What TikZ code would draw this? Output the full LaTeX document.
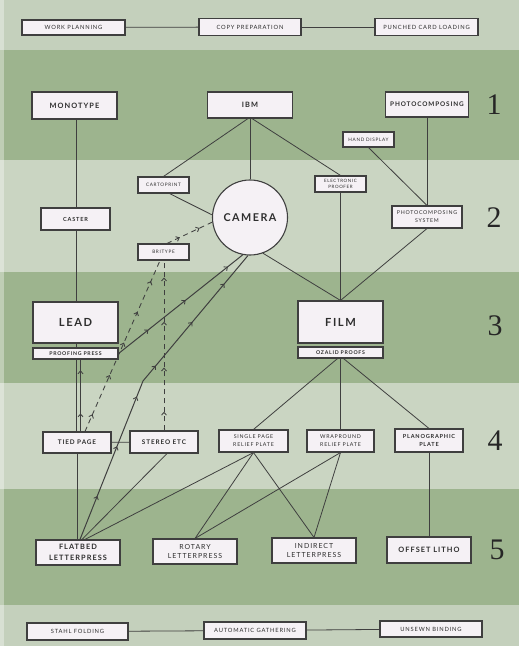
\documentclass[tikz,border=0pt]{standalone}
\usepackage{fontspec}
\usetikzlibrary{decorations.markings,arrows.meta}
\newfontfamily\lblfont[LetterSpace=14]{Lato}
\newfontfamily\numfont{Liberation Serif}
\definecolor{dkband}{HTML}{9DB48E}
\definecolor{ltband}{HTML}{CAD5C2}
\definecolor{edband}{HTML}{C4D0BC}
\definecolor{boxfill}{HTML}{F5F1F5}
\definecolor{boxline}{HTML}{3F3F3F}
\definecolor{txt}{HTML}{2E2E2E}
\definecolor{lin}{HTML}{3F3F3F}
\begin{document}
\begin{tikzpicture}[x=1bp,y=-1bp,
  box/.style={draw=boxline, fill=boxfill, line width=1.1bp, inner sep=0pt, align=center, text=txt},
  fa/.style={font=\lblfont\fontsize{4.7}{6}\selectfont},
  fb/.style={font=\lblfont\fontsize{5.3}{8}\selectfont},
  fbb/.style={font=\lblfont\bfseries\fontsize{5.6}{8}\selectfont},
  fc/.style={font=\lblfont\fontsize{5.8}{8}\selectfont},
  fd/.style={font=\lblfont\bfseries\fontsize{6.4}{8}\selectfont},
  fe/.style={font=\lblfont\fontsize{7}{10}\selectfont},
  feb/.style={font=\lblfont\bfseries\fontsize{7.4}{10.5}\selectfont},
  fbig/.style={font=\lblfont\bfseries\fontsize{10.8}{12}\selectfont},
  numst/.style={font=\numfont\fontsize{30}{31}\selectfont, text=black!85, inner sep=0pt},
  conn/.style={draw=lin, line width=0.8bp},
  aconn/.style={draw=lin, line width=1bp},
  dconn/.style={draw=lin, line width=0.85bp, dash pattern=on 5bp off 4bp},
  bb/.tip={Straight Barb[length=2.8bp,width=5bp,line width=0.85bp]},
  mids/.style={postaction={decorate, decoration={markings, mark=at position #1 with {\arrow{bb}}}}}
]
\useasboundingbox (0,0) rectangle (519,646);
% bands
\fill[edband] (0,0) rectangle (519,50);
\fill[dkband] (0,50) rectangle (519,160);
\fill[ltband] (0,160) rectangle (519,272);
\fill[dkband] (0,272) rectangle (519,383);
\fill[ltband] (0,383) rectangle (519,489);
\fill[dkband] (0,489) rectangle (519,605);
\fill[edband] (0,605) rectangle (519,646);
\fill[white, opacity=0.35] (0,0) rectangle (4,646);

% top row
\node[box, fc, minimum width=103bp, minimum height=15bp] (wp) at (73.5,27.5) {WORK PLANNING};
\node[box, fc, minimum width=102bp, minimum height=17bp] (cp) at (250,27) {COPY PREPARATION};
\node[box, fc, minimum width=103bp, minimum height=17bp] (pcl) at (426.5,27) {PUNCHED CARD LOADING};

% band 1
\node[box, feb, minimum width=85bp, minimum height=27bp] (mono) at (74.5,105.5) {MONOTYPE};
\node[box, feb, minimum width=85bp, minimum height=26bp] (ibm) at (250,105) {IBM};
\node[box, fd, minimum width=83bp, minimum height=25bp] (photo) at (427,104.5) {PHOTOCOMPOSING};
\node[box, fa, minimum width=51bp, minimum height=15bp] (hand) at (368.5,139.5) {HAND DISPLAY};

% band 2
\node[box, fa, minimum width=51bp, minimum height=16bp] (carto) at (163.5,185) {CARTOPRINT};
\node[box, fbb, minimum width=69bp, minimum height=22bp] (caster) at (75.5,219) {CASTER};
\node[box, fa, minimum width=51bp, minimum height=16bp] (brit) at (163.5,252) {BRITYPE};
\node[box, circle, fbig, minimum size=75bp] (cam) at (250,217.5) {CAMERA};
\node[box, font=\lblfont\fontsize{4.5}{6}\selectfont, minimum width=51bp, minimum height=16bp] (eproof) at (340.5,184) {ELECTRONIC\\PROOFER};
\node[box, fb, minimum width=70bp, minimum height=22bp] (pcs) at (427,217) {PHOTOCOMPOSING\\SYSTEM};

% band 3
\node[box, font=\lblfont\bfseries\fontsize{11.2}{12}\selectfont, minimum width=85bp, minimum height=41bp] (lead) at (75.5,322.5) {LEAD};
\node[box, font=\lblfont\bfseries\fontsize{5.2}{6}\selectfont, minimum width=85bp, minimum height=11bp] (press) at (75.5,353.5) {PROOFING PRESS};
\node[box, font=\lblfont\bfseries\fontsize{11.2}{12}\selectfont, minimum width=85bp, minimum height=42bp] (film) at (340.5,322) {FILM};
\node[box, font=\lblfont\bfseries\fontsize{5.2}{6}\selectfont, minimum width=85bp, minimum height=11bp] (ozalid) at (340.5,352.5) {OZALID PROOFS};

% band 4
\node[box, fd, minimum width=68bp, minimum height=21bp] (tied) at (77,442.5) {TIED PAGE};
\node[box, fd, minimum width=68bp, minimum height=22bp] (stereo) at (164,442) {STEREO ETC};
\node[box, fb, minimum width=69bp, minimum height=22bp] (single) at (253.5,441) {SINGLE PAGE\\RELIEF PLATE};
\node[box, fb, minimum width=67bp, minimum height=22bp] (wrap) at (340.5,441) {WRAPROUND\\RELIEF PLATE};
\node[box, fbb, minimum width=68bp, minimum height=23bp] (plano) at (429,440.5) {PLANOGRAPHIC\\PLATE};

% band 5
\node[box, feb, minimum width=84bp, minimum height=25bp] (flat) at (78,552.5) {FLATBED\\LETTERPRESS};
\node[box, fe, minimum width=84bp, minimum height=25bp] (rotary) at (195,551.5) {ROTARY\\LETTERPRESS};
\node[box, fe, minimum width=84bp, minimum height=25bp] (indir) at (314,550.5) {INDIRECT\\LETTERPRESS};
\node[box, feb, minimum width=84bp, minimum height=26bp] (offs) at (429,550) {OFFSET LITHO};

% bottom row
\node[box, fc, minimum width=101bp, minimum height=17bp] (stahl) at (77.5,631.5) {STAHL FOLDING};
\node[box, fc, minimum width=102bp, minimum height=17bp] (autog) at (255,630.5) {AUTOMATIC GATHERING};
\node[box, fc, minimum width=102bp, minimum height=16bp] (unsewn) at (431,629) {UNSEWN BINDING};

% numerals
\node[numst] (n1) at (494,105) {1};
\node[numst] (n2) at (494,218) {2};
\node[numst] (n3) at (495,326) {3};
\node[numst] (n4) at (495,441) {4};
\node[numst] (n5) at (497,550) {5};

% helper coordinates
\coordinate (cx) at (76,0);
\coordinate (cx2) at (77.5,0);
\coordinate (ax) at (80.5,0);
\coordinate (kink) at (143,381);

% connectors
\draw[conn] (wp) -- (cp);
\draw[conn] (cp) -- (pcl);
\draw[conn] (stahl) -- (autog);
\draw[conn] (autog) -- (unsewn);

\draw[conn] (mono.south -| cx) -- (caster.north -| cx);
\draw[conn] (caster.south -| cx) -- (lead.north -| cx);
\draw[conn] (lead.south -| cx) -- (press.north -| cx);
\draw[conn] (press.south -| cx) -- (tied.north -| cx);
\draw[conn] (tied.south -| cx2) -- (flat.north -| cx2);
\draw[conn, mids=0.25, mids=0.85] (tied.north -| ax) -- (press.south -| ax);
\draw[conn] (tied) -- (stereo);
\draw[conn] ([xshift=3bp]stereo.south) -- ([xshift=4bp]flat.north);

\draw[aconn, mids=0.14, mids=0.30, mids=0.46, mids=0.57, mids=0.74, mids=0.89] ([xshift=2bp]flat.north) -- (kink) -- (cam.-93);
\draw[aconn, mids=0.24, mids=0.54, mids=0.88] (press.east) -- (cam.-101);

\draw[dconn, mids=0.28, mids=0.72] ([xshift=3.5bp]brit.north) -- (cam.187);
\draw[dconn, mids=0.10, mids=0.33, mids=0.52, mids=0.70, mids=0.88] ([xshift=8bp]tied.north) -- ([xshift=-3.5bp]brit.south);
\draw[dconn, mids=0.11, mids=0.37, mids=0.64, mids=0.90] (stereo.north) -- (stereo.north |- brit.south);

\draw[conn] (ibm) -- (cam);
\draw[conn] ([xshift=-2bp]ibm.south) -- (carto.north);
\draw[conn] ([xshift=2bp]ibm.south) -- (eproof.north);
\draw[conn] ([xshift=6bp]carto.south) -- (cam.176);
\draw[conn] (cam.-70) -- (film.north);
\draw[conn] (eproof) -- (film);
\draw[conn] (pcs.south) -- (film.north);
\draw[conn] (photo) -- (pcs);
\draw[conn] (hand.south) -- (pcs.north);

\draw[conn] ([xshift=-3bp]ozalid.south) -- (single.north);
\draw[conn] (ozalid) -- (wrap);
\draw[conn] ([xshift=3bp]ozalid.south) -- (plano.north);
\draw[conn] (single.south) -- ([xshift=7bp]flat.north);
\draw[conn] (single.south) -- (rotary.north);
\draw[conn] (single.south) -- (indir.north);
\draw[conn] (wrap.south) -- (rotary.north);
\draw[conn] (wrap.south) -- (indir.north);
\draw[conn] (plano) -- (offs);
\end{tikzpicture}
\end{document}
